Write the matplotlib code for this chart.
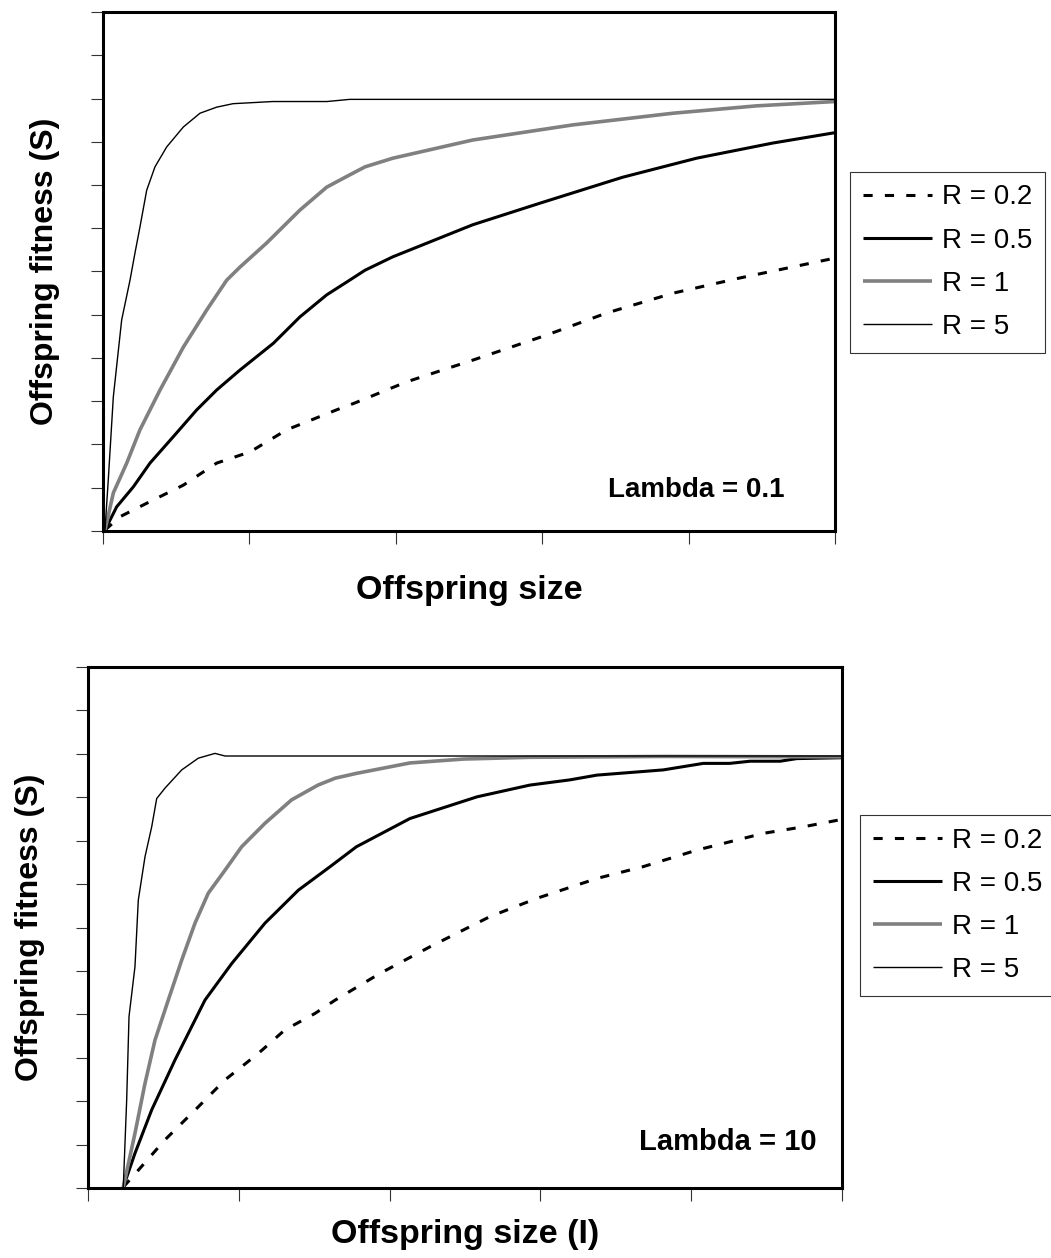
import matplotlib

matplotlib.use("Agg")
import matplotlib.pyplot as plt

plt.rcParams["font.family"] = ["Liberation Sans", "DejaVu Sans"]

# Offspring fitness curves, lambda = 0.1 (x: offspring size, y: fitness S)
low_r02_x = [0.27, 2.32, 6.42, 10.97, 15.53, 20.1, 25.1, 31.9, 34.4, 41.5, 50.5, 60.6, 68.8, 77.9, 87.0, 100]
low_r02_y = [0.002, 0.033, 0.068, 0.106, 0.157, 0.183, 0.234, 0.280, 0.296, 0.345, 0.395, 0.453, 0.504, 0.550, 0.585, 0.631]
low_r05_x = [0.27, 1.87, 4.14, 6.42, 9.6, 12.8, 15.53, 18.7, 23.27, 26.9, 30.56, 33.7, 35.8, 39.6, 50.5, 59.7, 71.0, 81.1, 91.5, 100]
low_r05_y = [0.002, 0.056, 0.102, 0.157, 0.218, 0.280, 0.326, 0.372, 0.434, 0.495, 0.546, 0.580, 0.603, 0.634, 0.708, 0.758, 0.818, 0.862, 0.897, 0.921]
low_r1_x = [0.27, 1.41, 3.24, 5.05, 7.79, 10.97, 14.17, 16.9, 18.7, 22.36, 26.9, 30.56, 33.1, 35.8, 39.6, 50.5, 64.2, 77.9, 89.3, 100]
low_r1_y = [0.002, 0.088, 0.157, 0.234, 0.326, 0.425, 0.511, 0.580, 0.610, 0.666, 0.742, 0.795, 0.818, 0.842, 0.862, 0.904, 0.939, 0.966, 0.983, 0.993]
low_r5_x = [0.27, 0.72, 1.41, 2.55, 3.69, 4.37, 5.05, 5.97, 7.10, 8.70, 10.97, 13.25, 15.53, 17.76, 23.2, 30.6, 33.7, 100]
low_r5_y = [0.002, 0.118, 0.31, 0.488, 0.58, 0.643, 0.703, 0.788, 0.842, 0.888, 0.934, 0.966, 0.98, 0.988, 0.993, 0.993, 0.998, 0.998]

# Offspring fitness curves, lambda = 10
high_r02_x = [4.68, 6.67, 10.21, 14.63, 18.17, 22.59, 26.1, 30.1, 32.8, 38.7, 45.4, 53.3, 59.5, 67.5, 73.6, 80.7, 89.6, 94.9, 100]
high_r02_y = [0.002, 0.041, 0.111, 0.187, 0.249, 0.310, 0.364, 0.402, 0.433, 0.494, 0.556, 0.625, 0.667, 0.713, 0.740, 0.778, 0.817, 0.832, 0.849]
high_r05_x = [4.68, 6.23, 8.45, 11.54, 15.52, 19.06, 23.47, 27.9, 32.1, 35.6, 42.7, 51.6, 58.6, 63.9, 67.5, 76.3, 81.6, 85.1, 87.8, 91.8, 94.0, 100]
high_r05_y = [0.002, 0.080, 0.180, 0.295, 0.433, 0.517, 0.610, 0.686, 0.740, 0.786, 0.851, 0.901, 0.928, 0.940, 0.951, 0.963, 0.978, 0.978, 0.983, 0.983, 0.989, 0.991]
high_r1_x = [4.68, 6.23, 7.56, 8.89, 10.65, 12.43, 14.19, 15.95, 18.17, 20.38, 23.47, 27.0, 30.5, 32.8, 35.6, 42.7, 49.8, 58.6, 76.3, 100]
high_r1_y = [0.002, 0.126, 0.241, 0.341, 0.433, 0.525, 0.610, 0.679, 0.732, 0.786, 0.840, 0.894, 0.928, 0.944, 0.955, 0.979, 0.988, 0.992, 0.994, 0.993]
high_r5_x = [4.68, 5.13, 5.44, 6.23, 6.67, 7.56, 8.45, 9.11, 10.21, 12.43, 14.63, 16.84, 18.17, 100]
high_r5_y = [0.002, 0.203, 0.395, 0.51, 0.663, 0.763, 0.832, 0.897, 0.921, 0.963, 0.990, 1.001, 0.995, 0.995]

labels = ["R = 0.2", "R = 0.5", "R = 1", "R = 5"]
x_ticks = [0, 20, 40, 60, 80, 100]
y_ticks = [i * 0.1 for i in range(13)]

styles = [
    dict(color="black", lw=2.2, dashes=(3, 4)),
    dict(color="black", lw=2.2),
    dict(color="#808080", lw=2.6),
    dict(color="black", lw=1.0),
]


def draw_panel(ax, curves, xlabel, lambda_text, lambda_pos, lambda_size,
               ylabel_x, xlabel_y, legend_anchor):
    handles = []
    for (xs, ys), style, label in zip(curves, styles, labels):
        (line,) = ax.plot(xs, ys, label=label, solid_capstyle="butt",
                          dash_capstyle="butt", clip_on=False, **style)
        handles.append(line)
    ax.set_xlim(0, 100)
    ax.set_ylim(0, 1.2)
    ax.set_xticks(x_ticks)
    ax.set_yticks(y_ticks)
    ax.tick_params(direction="out", length=9, width=0.8, color="#333333",
                   labelbottom=False, labelleft=False)
    for spine in ax.spines.values():
        spine.set_linewidth(2.2)
    ax.set_ylabel("Offspring fitness (S)", fontsize=23, fontweight="bold", va="center")
    ax.yaxis.set_label_coords(ylabel_x, 0.5)
    ax.set_xlabel(xlabel, fontsize=24.5, fontweight="bold", va="center")
    ax.xaxis.set_label_coords(0.5, xlabel_y)
    ax.text(lambda_pos[0], lambda_pos[1], lambda_text, transform=ax.transAxes,
            ha="center", va="center", fontsize=lambda_size, fontweight="bold")
    leg = ax.legend(handles=handles, loc="upper left", bbox_to_anchor=legend_anchor,
                    bbox_transform=ax.figure.transFigure, frameon=True, fancybox=False,
                    edgecolor="black", fontsize=20, handlelength=2.5,
                    handletextpad=0.35, labelspacing=0.62, borderpad=0.45,
                    borderaxespad=0)
    leg.get_frame().set_linewidth(0.8)


fig = plt.figure(figsize=(10.51, 12.58), dpi=100)
ax_top = fig.add_axes([103 / 1051, 1 - 531 / 1258, 732 / 1051, 519 / 1258])
ax_bot = fig.add_axes([88 / 1051, 1 - 1188 / 1258, 754 / 1051, 521 / 1258])

draw_panel(
    ax_top,
    [(low_r02_x, low_r02_y), (low_r05_x, low_r05_y), (low_r1_x, low_r1_y), (low_r5_x, low_r5_y)],
    "Offspring size", "Lambda = 0.1", (0.811, 0.079), 20, -0.079, -0.114,
    (850 / 1051, 1 - 172 / 1258),
)
draw_panel(
    ax_bot,
    [(high_r02_x, high_r02_y), (high_r05_x, high_r05_y), (high_r1_x, high_r1_y), (high_r5_x, high_r5_y)],
    "Offspring size (I)", "Lambda = 10", (0.848, 0.088), 21, -0.077, -0.09,
    (860 / 1051, 1 - 815 / 1258),
)

fig.savefig("out.png", dpi=100)
plt.close(fig)
